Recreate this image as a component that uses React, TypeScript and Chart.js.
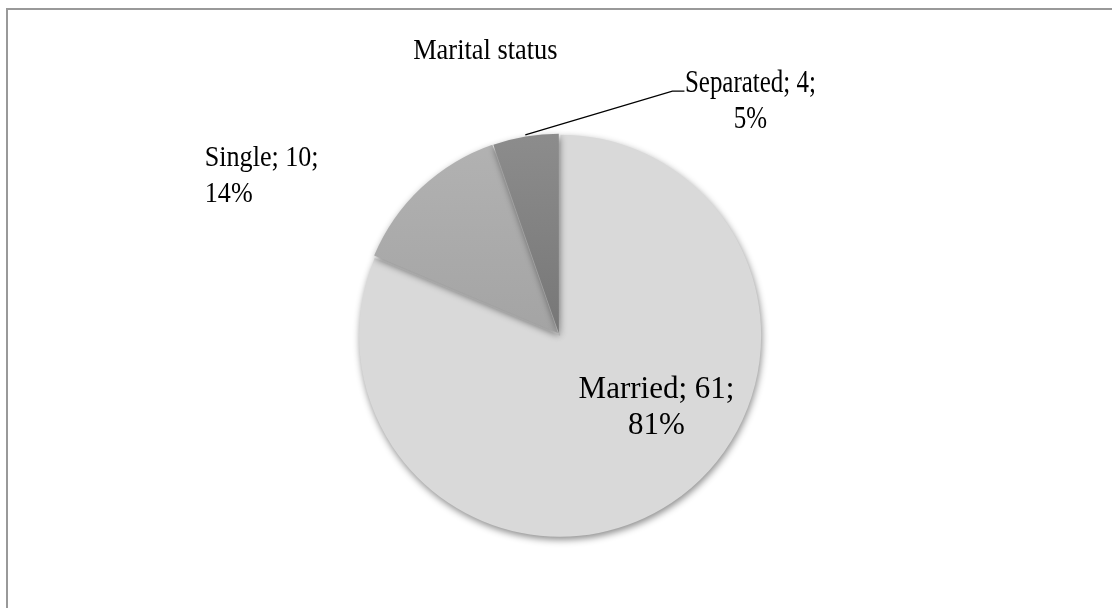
import React, { useEffect, useRef } from "react";
import { Chart, registerables } from "chart.js";

Chart.register(...registerables);

const TITLE = "Marital status";
const categories = ["Married", "Single", "Separated"];
const counts = [61, 10, 4];
const percentLabels = ["81%", "14%", "5%"];

// presentation settings (not data)
const sliceOffsets = [8, 6, 3];
const FONT = "'Liberation Serif', 'Times New Roman', serif";

function makeLabelText(i: number): string[] {
  return [`${categories[i]}; ${counts[i]};`, percentLabels[i]];
}

function drawText(ctx: any, text: string, x: number, y: number, size: number, sx: number, align: string) {
  ctx.save();
  ctx.font = `${size}px ${FONT}`;
  ctx.textAlign = align;
  ctx.translate(x, y);
  ctx.scale(sx, 1);
  ctx.fillText(text, 0, 0);
  ctx.restore();
}

const shadowPlugin = {
  id: "sliceShadow",
  beforeDatasetsDraw(chart: any) {
    const ctx = chart.ctx;
    ctx.save();
    ctx.shadowColor = "rgba(0,0,0,0.45)";
    ctx.shadowBlur = 7;
    ctx.shadowOffsetX = 1;
    ctx.shadowOffsetY = 3;
  },
  afterDatasetsDraw(chart: any) {
    chart.ctx.restore();
  },
};

const labelPlugin = {
  id: "excelLabels",
  afterDraw(chart: any) {
    const ctx = chart.ctx;
    const meta = chart.getDatasetMeta(0);
    ctx.save();
    ctx.fillStyle = "#000";
    ctx.textBaseline = "alphabetic";

    const p0 = meta.data[0].getProps(["x", "y", "outerRadius"], true);
    const R = p0.outerRadius;
    drawText(ctx, TITLE, p0.x - 0.37 * R, p0.y - 1.38 * R, 30, 0.88, "center");

    meta.data.forEach((arc: any, i: number) => {
      const { x, y, startAngle, endAngle, outerRadius } = arc.getProps(
        ["x", "y", "startAngle", "endAngle", "outerRadius"],
        true
      );
      const mid = (startAngle + endAngle) / 2;
      const off = sliceOffsets[i];
      const cx = x + Math.cos(mid) * off;
      const cy = y + Math.sin(mid) * off;
      const lines = makeLabelText(i);
      if (i === 0) {
        const ax = x + outerRadius * 0.49;
        const ay = y + outerRadius * 0.32;
        drawText(ctx, lines[0], ax, ay, 31, 1, "center");
        drawText(ctx, lines[1], ax, ay + 36, 31, 1, "center");
      } else if (i === 1) {
        const ax = x - outerRadius * 1.78;
        const ay = y - outerRadius * 0.845;
        drawText(ctx, lines[0], ax, ay, 30, 0.87, "left");
        drawText(ctx, lines[1], ax, ay + 36, 30, 0.87, "left");
      } else {
        const sx = cx + Math.cos(mid) * outerRadius;
        const sy = cy + Math.sin(mid) * outerRadius;
        const ex = x + outerRadius * 0.57;
        const ey = y - outerRadius * 1.22;
        ctx.strokeStyle = "#000";
        ctx.lineWidth = 1.2;
        ctx.beginPath();
        ctx.moveTo(sx, sy);
        ctx.lineTo(ex, ey);
        ctx.lineTo(ex + 12, ey);
        ctx.stroke();
        const ax = ex + 12 + 66;
        drawText(ctx, lines[0], ax, ey + 1, 32, 0.78, "center");
        drawText(ctx, lines[1], ax, ey + 37, 32, 0.78, "center");
      }
    });
    ctx.restore();
  },
};

export default function App() {
  const ref = useRef<HTMLCanvasElement | null>(null);
  useEffect(() => {
    if (!ref.current) return;
    const grad = (ctx: any, top: string, bottom: string) => {
      const chart = ctx.chart;
      const area = chart.chartArea;
      if (!area) return top;
      const g = chart.ctx.createLinearGradient(0, 100, 0, 360);
      g.addColorStop(0, top);
      g.addColorStop(1, bottom);
      return g;
    };
    const chart = new Chart(ref.current, {
      type: "pie",
      data: {
        labels: categories,
        datasets: [
          {
            data: counts,
            backgroundColor: (c: any) => {
              const i = c.dataIndex;
              if (i === 0) return "#d9d9d9";
              if (i === 1) return grad(c, "#b5b5b5", "#a2a2a2");
              return grad(c, "#909090", "#747474");
            },
            borderWidth: 0,
            offset: sliceOffsets,
            radius: 199,
          } as any,
        ],
      },
      options: {
        animation: false,
        responsive: false,
        layout: { padding: { left: 6, right: 0, top: 60, bottom: 0 } },
        plugins: {
          legend: { display: false },
          tooltip: { enabled: false },
          title: { display: false },
        },
      },
      plugins: [shadowPlugin, labelPlugin],
    });
    return () => chart.destroy();
  }, []);

  return (
    <div style={{ position: "fixed", left: 0, top: 0, width: 1112, height: 608, background: "#fff", overflow: "hidden" }}>
      <canvas ref={ref} width={1112} height={608} style={{ position: "absolute", left: 0, top: 0 }} />
      <div
        style={{
          position: "absolute",
          left: 6,
          top: 8,
          width: 1200,
          height: 700,
          borderTop: "2px solid #999",
          borderLeft: "2px solid #999",
          pointerEvents: "none",
        }}
      />
    </div>
  );
}
